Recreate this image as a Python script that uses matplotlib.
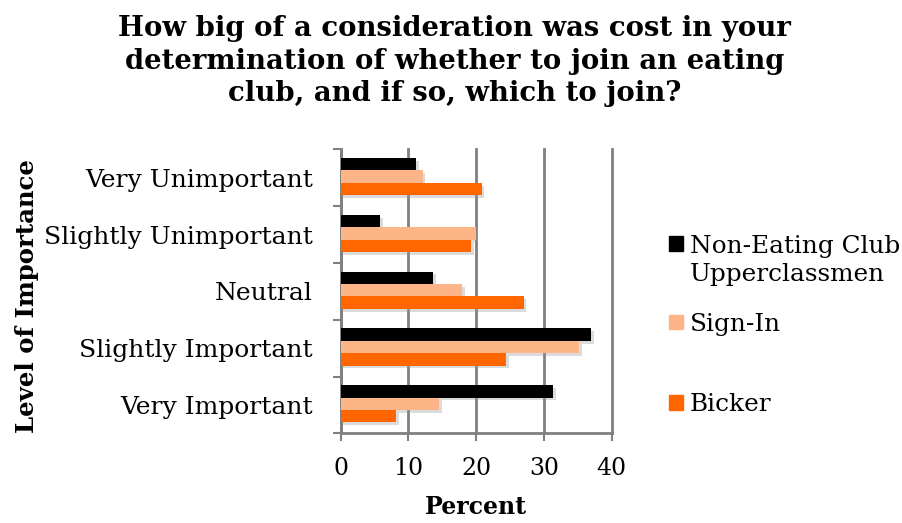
import matplotlib.pyplot as plt
import matplotlib.patheffects as pe
from matplotlib.patches import Rectangle
import numpy as np

plt.rcParams['font.family'] = 'DejaVu Serif'

categories = ["Very Important", "Slightly Important", "Neutral",
              "Slightly Unimportant", "Very Unimportant"]
non_eating = [31.4, 37.0, 13.6, 5.8, 11.1]
sign_in = [14.5, 35.2, 17.9, 19.9, 12.1]
bicker = [8.2, 24.4, 27.0, 19.2, 20.8]

series = ["Non-Eating Club\nUpperclassmen", "Sign-In", "Bicker"]
colors = ["#000000", "#FDB487", "#FF6600"]

fig = plt.figure(figsize=(9.03, 5.23), dpi=100)
ax = fig.add_axes([0.3773, 0.1715, 0.3001, 0.543])

y = np.arange(len(categories))
h = 0.218
shadow = [pe.SimplePatchShadow(offset=(2, -2), shadow_rgbFace="#999999", alpha=0.35), pe.Normal()]
for i, (vals, col) in enumerate(zip([non_eating, sign_in, bicker], colors)):
    ax.barh(y + (1 - i) * h + 0.02, vals, height=h, color=col, zorder=3,
            path_effects=shadow)

ax.set_xlim(0, 40)
ax.set_ylim(-0.5, 4.5)
ax.set_xticks([0, 10, 20, 30, 40])
ax.set_yticks(y)
ax.set_yticklabels(categories)
ax.set_yticks(np.arange(-0.5, 5, 1), minor=True)
ax.tick_params(axis='y', which='major', length=0, pad=20, labelsize=18)
ax.tick_params(axis='y', which='minor', length=6, width=1.5, color="#808080")
ax.tick_params(axis='x', length=6, width=1.5, color="#808080", pad=11, labelsize=17)

ax.grid(axis='x', color="#808080", linewidth=2, zorder=0)
for line in ax.get_xgridlines():
    line.set_clip_on(False)
for s in ["top", "right"]:
    ax.spines[s].set_visible(False)
for s in ["left", "bottom"]:
    ax.spines[s].set_color("#808080")
    ax.spines[s].set_linewidth(2)

ax.set_xlabel("Percent", fontsize=17, fontweight="bold", labelpad=11)
fig.text(0.030, 0.433, "Level of Importance", rotation=90, fontsize=17.6,
         fontweight="bold", ha="center", va="center")

fig.suptitle("How big of a consideration was cost in your\n"
             "determination of whether to join an eating\n"
             "club, and if so, which to join?",
             x=0.503, y=0.972, fontsize=19.8, fontweight="bold", linespacing=1.28)

# legend drawn by hand to keep the uneven spacing
legend_y = [0.534, 0.383, 0.230]
for lab, col, ly in zip(series, colors, legend_y):
    fig.patches.append(Rectangle((0.741, ly - 0.013), 0.0155, 0.027,
                                 transform=fig.transFigure, color=col))
    if "\n" in lab:
        fig.text(0.764, ly + 0.016, lab, fontsize=17.8, va="top", linespacing=1.25)
    else:
        fig.text(0.764, ly - 0.004, lab, fontsize=17.8, va="center")

fig.savefig("out.png", dpi=100)
